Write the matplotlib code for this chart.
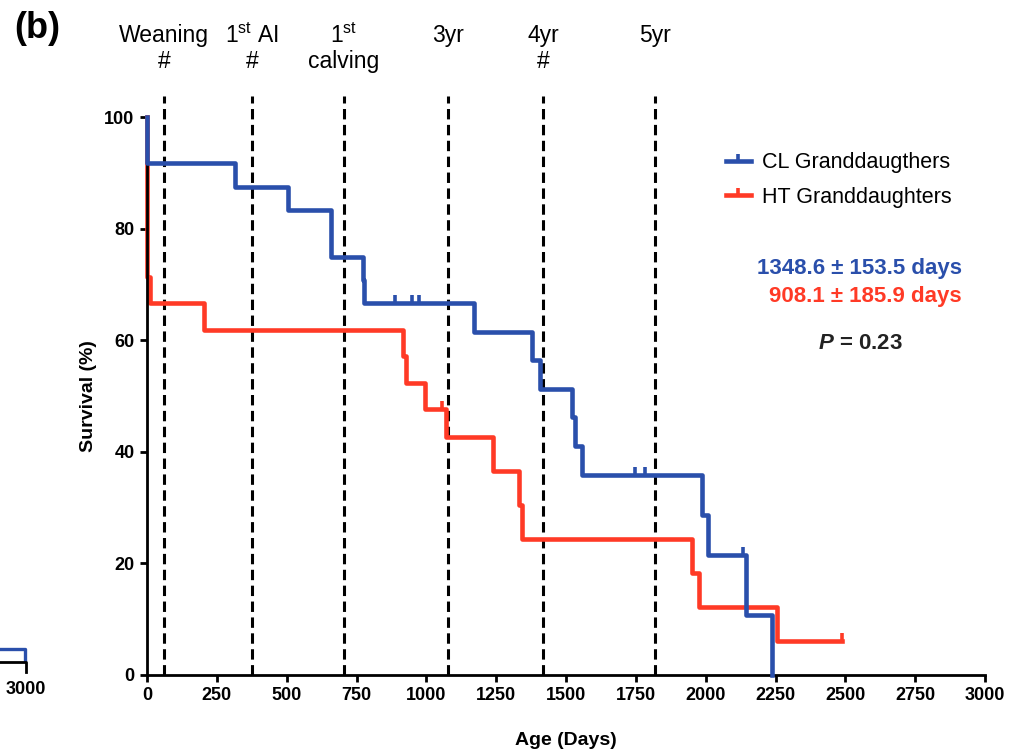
import matplotlib
matplotlib.use("Agg")
import matplotlib.pyplot as plt
from matplotlib.lines import Line2D

plt.rcParams["font.family"] = ["Liberation Sans", "DejaVu Sans"]
plt.rcParams["mathtext.fontset"] = "custom"
plt.rcParams["mathtext.rm"] = "Liberation Sans"
plt.rcParams["mathtext.it"] = "Liberation Sans:italic:bold"
plt.rcParams["mathtext.bf"] = "Liberation Sans:bold"

# Kaplan-Meier steps (days, survival %)
cl_days = [0, 0, 315, 505, 659, 773, 778, 1171, 1378, 1407, 1522, 1532, 1558, 1987, 2009, 2145, 2238]
cl_surv = [100, 91.7, 87.5, 83.3, 75.0, 70.8, 66.7, 61.5, 56.4, 51.3, 46.2, 41.0, 35.9, 28.7, 21.5, 10.8, 0]
cl_cens_days = [888, 949, 974, 1747, 1783, 2134]
cl_cens_surv = [66.7, 66.7, 66.7, 35.9, 35.9, 21.5]

ht_days = [0, 0, 10, 204, 916, 927, 995, 1071, 1240, 1330, 1343, 1951, 1976, 2256, 2488]
ht_surv = [100, 71.4, 66.7, 61.9, 57.1, 52.4, 47.6, 42.7, 36.6, 30.5, 24.4, 18.3, 12.2, 6.1, 6.1]
ht_cens_days = [1056, 2488]
ht_cens_surv = [47.6, 6.1]

# Milestones (dashed lines) and their labels
event_days = [61, 376, 705, 1078, 1418, 1819]
event_line1 = ["Weaning", r"1$^{\mathrm{st}}$ AI", r"1$^{\mathrm{st}}$", "3yr", "4yr", "5yr"]
event_line2 = ["#", "#", "calving", "", "#", ""]

series_labels = ["CL Granddaugthers", "HT Granddaughters"]
mean_texts = ["1348.6 \u00b1 153.5 days", "908.1 \u00b1 185.9 days"]
p_text = r"$P$ = 0.23"

x_ticks = list(range(0, 3001, 250))
y_ticks = list(range(0, 101, 20))

BLUE = "#2a4fab"
RED = "#ff3a26"

fig = plt.figure(figsize=(10.18, 7.51), dpi=100, facecolor="white")
ax = fig.add_axes([0.1444, 0.1012, 0.8232, 0.743])

for d in event_days:
    ax.plot([d, d], [0, 103.8], color="black", lw=2.2, ls=(0, (3.4, 1.8)), clip_on=False, zorder=1)

ax.plot(ht_days, ht_surv, drawstyle="steps-post", color=RED, lw=3.3, clip_on=False, zorder=2)
ax.plot(ht_cens_days, ht_cens_surv, ls="none", marker=2, ms=6, mew=2.6, color=RED, clip_on=False, zorder=2)
ax.plot(cl_days, cl_surv, drawstyle="steps-post", color=BLUE, lw=3.3, clip_on=False, zorder=3)
ax.plot(cl_cens_days, cl_cens_surv, ls="none", marker=2, ms=6, mew=2.6, color=BLUE, clip_on=False, zorder=3)

ax.set_xlim(0, 3000)
ax.set_ylim(0, 100)
ax.set_xticks(x_ticks)
ax.set_yticks(y_ticks)
for s in ["top", "right"]:
    ax.spines[s].set_visible(False)
for s in ["left", "bottom"]:
    ax.spines[s].set_linewidth(2.0)
ax.tick_params(direction="out", length=5, width=2.0, labelsize=13, pad=4)
for lab in ax.get_xticklabels() + ax.get_yticklabels():
    lab.set_fontweight("bold")
ax.set_xlabel("Age (Days)", fontsize=14, fontweight="bold", labelpad=20)
ax.set_ylabel("Survival (%)", fontsize=14, fontweight="bold", labelpad=5)

for d, l1, l2 in zip(event_days, event_line1, event_line2):
    ax.text(d, 114.6, l1, ha="center", va="center", fontsize=16.5, clip_on=False)
    if l2:
        ax.text(d, 109.9, l2, ha="center", va="center", fontsize=16.5, clip_on=False)

handles = [
    Line2D([], [], color=BLUE, lw=3.3, marker=2, ms=5, mew=2.6),
    Line2D([], [], color=RED, lw=3.3, marker=2, ms=5, mew=2.6),
]
fig.legend(handles, series_labels, loc="upper left", bbox_to_anchor=(0.713, 0.797),
           frameon=False, fontsize=15.5, handlelength=1.15, handletextpad=0.55,
           labelspacing=0.62, borderpad=0, borderaxespad=0, numpoints=1)

fig.text(0.945, 0.643, mean_texts[0], ha="right", va="center", fontsize=16, fontweight="bold", color=BLUE)
fig.text(0.945, 0.605, mean_texts[1], ha="right", va="center", fontsize=16, fontweight="bold", color=RED)
fig.text(0.845, 0.543, p_text, ha="center", va="center", fontsize=16, fontweight="bold", color="#222222")

fig.text(0.014, 0.962, "(b)", ha="left", va="center", fontsize=26, fontweight="bold")

# sliver of the neighbouring panel at the left edge
fig.add_artist(Line2D([0, 25 / 1018, 25 / 1018], [1 - 649 / 751, 1 - 649 / 751, 1 - 660 / 751],
                      transform=fig.transFigure, color=BLUE, lw=2.4))
fig.add_artist(Line2D([0, 26 / 1018, 26 / 1018], [1 - 662 / 751, 1 - 662 / 751, 1 - 672 / 751],
                      transform=fig.transFigure, color="black", lw=2.0))
fig.text(26 / 1018, 1 - 690 / 751, "3000", ha="center", va="center", fontsize=13, fontweight="bold")

fig.savefig("out.png", dpi=100, facecolor="white")
